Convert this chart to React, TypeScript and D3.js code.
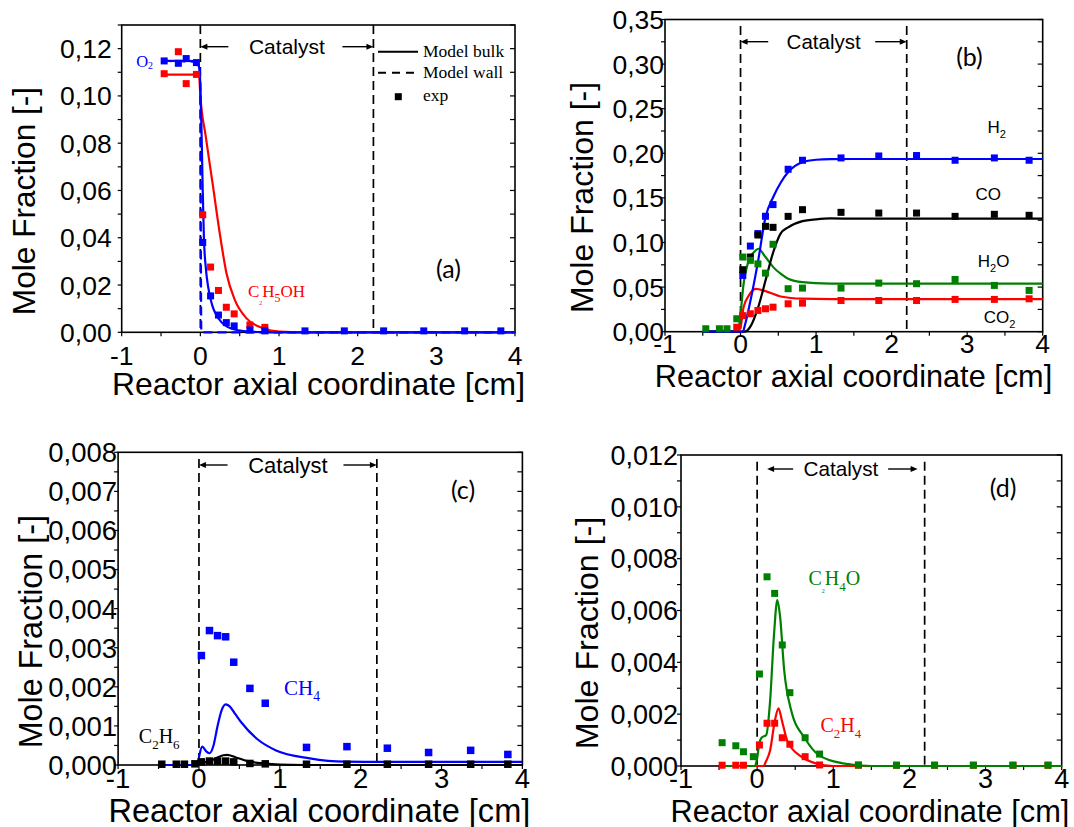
import React from 'react';
import * as d3 from 'd3';

// ---------- shared axial sampling positions of the experimental profiles [cm] ----------
const positions = [-0.46, -0.28, -0.18, -0.05, 0.03, 0.13, 0.23, 0.33, 0.43, 0.63, 0.82, 1.33, 1.83, 2.33, 2.84, 3.36, 3.82];

// ---------- (a) reactants ----------
const o2Exp = [0.1148, 0.1138, 0.1158, 0.1141, 0.038, 0.0154, 0.0073, 0.0041, 0.0027, 0.001, 0.0006, 0.0006, 0.0006, 0.0006, 0.0006, 0.0006, 0.0006];
const ethanolExp = [0.1094, 0.1187, 0.1052, 0.1091, 0.0497, 0.0276, 0.0177, 0.0106, 0.0078, 0.0031, 0.0021, null, null, null, null, null, null];
const o2Bulk: [number, number][] = [[-0.48, 0.1148], [-0.15, 0.1148], [-0.05, 0.1142], [-0.015, 0.112], [0, 0.104], [0.015, 0.085], [0.03, 0.06], [0.045, 0.04], [0.07, 0.027], [0.1, 0.019], [0.15, 0.0115], [0.2, 0.0075], [0.27, 0.0042], [0.35, 0.0022], [0.45, 0.0011], [0.6, 0.0004], [0.8, 0.0001], [1.0, 0], [4, 0]];
const o2Wall: [number, number][] = [[-0.48, 0.1148], [-0.05, 0.1145], [-0.01, 0.113], [0.0, 0.1], [0.005, 0.05], [0.012, 0], [4, 0]];
const ethanolBulk: [number, number][] = [[-0.46, 0.109], [-0.05, 0.109], [-0.015, 0.108], [0, 0.1], [0.068, 0.083], [0.161, 0.0617], [0.246, 0.042], [0.332, 0.025], [0.438, 0.0137], [0.587, 0.0059], [0.8, 0.0017], [1.01, 0.0003], [1.3, 0], [4, 0]];

// ---------- (b) main products ----------
const h2Exp = [null, null, null, null, 0.0631, 0.096, 0.11, 0.1294, 0.1425, 0.1821, 0.1922, 0.1948, 0.197, 0.1975, 0.1922, 0.1948, 0.1922];
const coExp = [null, null, null, null, 0.0695, 0.0837, 0.1084, 0.1181, 0.117, 0.1293, 0.1368, 0.1338, 0.133, 0.133, 0.1293, 0.1316, 0.1305];
const h2oExp = [0.0033, 0.0033, 0.0033, 0.0145, 0.0837, 0.08, 0.076, 0.0657, 0.098, 0.0482, 0.0489, 0.0489, 0.0545, 0.0538, 0.0586, 0.0519, 0.0463];
const co2Exp = [null, null, null, 0.005, 0.018, 0.0201, 0.0238, 0.0257, 0.0275, 0.0313, 0.032, 0.035, 0.035, 0.035, 0.0362, 0.0362, 0.0369];
const h2Bulk: [number, number][] = [[-0.5, 0], [0.03, 0], [0.06, 0.008], [0.132, 0.035], [0.234, 0.08], [0.331, 0.1286], [0.433, 0.151], [0.531, 0.167], [0.631, 0.179], [0.817, 0.19], [1.0, 0.1928], [1.19, 0.1935], [1.5, 0.1936], [4, 0.1936]];
const coBulk: [number, number][] = [[-0.5, 0], [0.05, 0], [0.132, 0.006], [0.234, 0.0275], [0.331, 0.0575], [0.433, 0.0893], [0.53, 0.11], [0.63, 0.117], [0.82, 0.124], [1.0, 0.126], [1.19, 0.127], [1.5, 0.1268], [4, 0.1268]];
const h2oBulk: [number, number][] = [[-0.5, 0], [-0.1, 0], [-0.03, 0.003], [0.0, 0.02], [0.035, 0.05], [0.11, 0.08], [0.2, 0.091], [0.234, 0.093], [0.33, 0.0837], [0.433, 0.0724], [0.53, 0.065], [0.63, 0.0594], [0.82, 0.0556], [1.19, 0.054], [1.5, 0.0538], [4, 0.0538]];
const co2Bulk: [number, number][] = [[-0.5, 0], [-0.05, 0], [0.0, 0.005], [0.04, 0.0275], [0.11, 0.0406], [0.2, 0.048], [0.33, 0.0455], [0.53, 0.0395], [0.82, 0.037], [1.2, 0.0366], [4, 0.0365]];

// ---------- (c) alkanes ----------
const ch4Exp = [null, null, null, null, 0.0028, 0.00344, 0.00331, 0.00328, 0.00263, 0.00196, 0.00158, 0.00045, 0.00047, 0.00043, 0.00032, 0.000375, 0.00027];
const c2h6Exp = [0.00002, 0.00002, 0.00002, 0.00003, 0.00008, 0.0001, 0.0001, 0.0001, 0.00008, 0.00004, 0.00003, 0.00002, 0.00002, 0.00002, 0.00002, 0.00002, 0.00002];
const ch4Bulk: [number, number][] = [[-0.5, 0], [-0.02, 0], [0.0, 0.0002], [0.04, 0.00047], [0.09, 0.00035], [0.13, 0.0003], [0.18, 0.0005], [0.23, 0.001], [0.28, 0.0014], [0.33, 0.00155], [0.38, 0.0015], [0.45, 0.0013], [0.52, 0.0011], [0.735, 0.00064], [0.947, 0.00038], [1.37, 0.00017], [1.8, 0.000085], [2.5, 0.00008], [4, 0.00008]];
const c2h6Bulk: [number, number][] = [[-0.5, 0], [0, 0], [0.03, 0.00006], [0.1, 0.00008], [0.2, 0.00016], [0.3, 0.00025], [0.35, 0.00026], [0.45, 0.0002], [0.6, 0.0001], [0.8, 0.00004], [1.0, 0.00001], [1.3, 0], [4, 0]];

// ---------- (d) oxygenates / olefins ----------
const c2h4oExp = [0.0009, 0.00078, 0.00055, 0.00036, 0.00355, 0.0073, 0.00666, 0.00467, 0.00283, 0.00109, 0.00046, 0.00004, 0.00003, 0.00003, 0.00003, 0.00003, 0.00003];
const c2h4Exp = [0.00003, 0.00003, 0.00003, null, 0.00081, 0.00165, 0.00165, 0.00109, 0.00084, 0.00036, 0.00004, 0.00003, 0.00003, 0.00003, 0.00003, 0.00003, 0.00003];
const c2h4oBulk: [number, number][] = [[-0.5, 0], [-0.03, 0], [0, 0.0003], [0.03, 0.0009], [0.06, 0.0011], [0.12, 0.0012], [0.17, 0.0025], [0.22, 0.005], [0.265, 0.0064], [0.3, 0.0058], [0.355, 0.0037], [0.446, 0.00216], [0.627, 0.00107], [0.81, 0.00042], [1.13, 0.0001], [1.5, 0], [4, 0]];
const c2h4Bulk: [number, number][] = [[-0.5, 0], [0.08, 0], [0.12, 0.0002], [0.17, 0.0006], [0.23, 0.0017], [0.28, 0.00222], [0.33, 0.0017], [0.4, 0.00094], [0.58, 0.00036], [0.77, 0.0001], [1.0, 0], [4, 0]];

// ---------- axis tick labels ----------
const xTicks = [-1, 0, 1, 2, 3, 4];
const yTicksA = [0, 0.02, 0.04, 0.06, 0.08, 0.1, 0.12];
const yTicksB = [0, 0.05, 0.1, 0.15, 0.2, 0.25, 0.3, 0.35];
const yTicksC = [0, 0.001, 0.002, 0.003, 0.004, 0.005, 0.006, 0.007, 0.008];
const yTicksD = [0, 0.002, 0.004, 0.006, 0.008, 0.01, 0.012];

const CATALYST_START = 0;
const CATALYST_END = 2.2;

const BLUE = '#0000ff';
const RED = '#ff0000';
const GREEN = '#008000';
const BLACK = '#000000';

const SANS = "'Liberation Sans', Arial, Helvetica, sans-serif";
const SERIF = "'Liberation Serif', 'Times New Roman', serif";
const TAG = "Lato, 'Open Sans', sans-serif";

type Pt = [number, number];
type Part = { t: string; scale?: number; shift?: number };

interface Species {
  parts: Part[];
  x: number;
  y: number;
  color: string;
  size: number;
  family: string;
}

interface PanelSpec {
  tag: string;
  box: { l: number; r: number; t: number; b: number };
  yMax: number;
  yTicks: number[];
  yMinor: number;
  decimals: number;
  tickFont: number;
  yLabelGap: number;
  xLabelDrop: number;
  xTitle: { x: number; y: number; size: number };
  yTitle: { x: number; y: number; size: number };
  tagPos: { x: number; y: number };
  cat: { arrowDrop: number; dashTop: number; leftInset: number; leftLen: number; rightInset: number; rightLen: number; font: number };
  curves: { points: Pt[]; color: string; dashed?: boolean }[];
  exp: { values: (number | null)[]; color: string }[];
  species: Species[];
  marker: number;
  legend?: boolean;
}

const fmt = (d: number, n: number) => d.toFixed(n).replace('.', ',');

function Formula({ s }: { s: Species }) {
  let prev = 0;
  return (
    <text fill={s.color} fontFamily={s.family} fontSize={s.size}>
      {s.parts.map((p, i) => {
        const shift = p.shift ?? 0;
        const dy = shift - prev;
        prev = shift;
        return (
          <tspan key={i} x={i === 0 ? s.x : undefined} y={i === 0 ? s.y : undefined} dy={i === 0 ? undefined : dy} fontSize={s.size * (p.scale ?? 1)}>
            {p.t}
          </tspan>
        );
      })}
    </text>
  );
}

function Panel({ p }: { p: PanelSpec }) {
  const { l, r, t, b } = p.box;
  const x = d3.scaleLinear().domain([-1, 4]).range([l, r]);
  const y = d3.scaleLinear().domain([0, p.yMax]).range([b, t]);
  const line = d3
    .line<Pt>()
    .x((d) => x(d[0]))
    .y((d) => y(d[1]))
    .curve(d3.curveMonotoneX);

  const minorY = d3.range(0, p.yMax + p.yMinor / 2, p.yMinor);
  const minorX = d3.range(-1, 4.001, 0.5);
  const arrowY = t + p.cat.arrowDrop;
  const x0 = x(CATALYST_START);
  const x1 = x(CATALYST_END);
  const xMid = x((CATALYST_START + CATALYST_END) / 2);
  const m = p.marker;

  // species labels are anchored in data units
  const species = p.species.map((s) => ({ ...s, x: x(s.x), y: y(s.y) }));

  return (
    <g>
      {/* catalyst zone boundaries */}
      {[x0, x1].map((xx, i) => (
        <line key={i} x1={xx} x2={xx} y1={t + p.cat.dashTop} y2={b} stroke={BLACK} strokeWidth={1.7} strokeDasharray="9,5" />
      ))}
      {/* catalyst annotation */}
      <g stroke={BLACK} strokeWidth={1.4} fill={BLACK}>
        <line x1={x0 + p.cat.leftInset + 5} x2={x0 + p.cat.leftInset + p.cat.leftLen} y1={arrowY} y2={arrowY} />
        <path d={`M${x0 + p.cat.leftInset},${arrowY} l7,-3 l0,6 z`} stroke="none" />
        <line x1={x1 - p.cat.rightInset - p.cat.rightLen} x2={x1 - p.cat.rightInset - 5} y1={arrowY} y2={arrowY} />
        <path d={`M${x1 - p.cat.rightInset},${arrowY} l-7,-3 l0,6 z`} stroke="none" />
      </g>
      <text x={xMid} y={arrowY} dy="0.35em" textAnchor="middle" fontFamily={SANS} fontSize={p.cat.font} fill={BLACK}>
        Catalyst
      </text>

      {/* frame */}
      <rect x={l} y={t} width={r - l} height={b - t} fill="none" stroke={BLACK} strokeWidth={1.6} />
      {/* y ticks: outward on the left, inward on the right */}
      {minorY.map((v, i) => (
        <g key={i} stroke={BLACK} strokeWidth={1.2}>
          <line x1={l - 4} x2={l} y1={y(v)} y2={y(v)} />
          <line x1={r - 5} x2={r} y1={y(v)} y2={y(v)} />
        </g>
      ))}
      {minorX.map((v, i) => (
        <line key={i} x1={x(v)} x2={x(v)} y1={b} y2={b + 4} stroke={BLACK} strokeWidth={1.2} />
      ))}
      {p.yTicks.map((v) => (
        <text key={v} x={l - p.yLabelGap} y={y(v)} dy="0.36em" textAnchor="end" fontFamily={SANS} fontSize={p.tickFont} fill={BLACK}>
          {fmt(v, p.decimals)}
        </text>
      ))}
      {xTicks.map((v) => (
        <text key={v} x={x(v)} y={b + p.xLabelDrop} textAnchor="middle" fontFamily={SANS} fontSize={p.tickFont} fill={BLACK}>
          {v < 0 ? `-${Math.abs(v)}` : v}
        </text>
      ))}
      <text x={p.xTitle.x} y={p.xTitle.y} textAnchor="middle" fontFamily={SANS} fontSize={p.xTitle.size} fill={BLACK}>
        Reactor axial coordinate [cm]
      </text>
      <text transform={`translate(${p.yTitle.x},${p.yTitle.y}) rotate(-90)`} textAnchor="middle" fontFamily={SANS} fontSize={p.yTitle.size} fill={BLACK}>
        Mole Fraction [-]
      </text>

      {/* model profiles */}
      {p.curves.map((c, i) => (
        <path key={i} d={line(c.points) ?? ''} fill="none" stroke={c.color} strokeWidth={2.2} strokeDasharray={c.dashed ? '9,5' : undefined} />
      ))}
      {/* experimental points */}
      {p.exp.map((s, si) => (
        <g key={si} fill={s.color}>
          {positions.map((pos, i) => {
            const v = s.values[i];
            if (v === null || v === undefined) return null;
            return <rect key={i} x={x(pos) - m / 2} y={y(v) - m / 2} width={m} height={m} />;
          })}
        </g>
      ))}

      {species.map((s, i) => (
        <Formula key={i} s={s} />
      ))}

      <text x={p.tagPos.x} y={p.tagPos.y} dy="0.35em" textAnchor="middle" fontFamily={TAG} fontSize={25} fill={BLACK}>
        {p.tag}
      </text>

      {p.legend && (
        <g fontFamily={SERIF} fontSize={17.5} fill={BLACK}>
          <line x1={378} x2={418} y1={51.7} y2={51.7} stroke={BLACK} strokeWidth={2} />
          <text x={423} y={51.7} dy="0.33em">Model bulk</text>
          <line x1={378} x2={418} y1={72.7} y2={72.7} stroke={BLACK} strokeWidth={2} strokeDasharray="8,6" />
          <text x={423} y={72.7} dy="0.33em">Model wall</text>
          <rect x={398.3 - 3.5} y={96.7 - 3.5} width={7} height={7} fill={BLACK} />
          <text x={423} y={96.7} dy="0.25em">exp</text>
        </g>
      )}
    </g>
  );
}

const panels: PanelSpec[] = [
  {
    tag: '(a)',
    box: { l: 121.7, r: 515, t: 25, b: 332.3 },
    yMax: 0.13,
    yTicks: yTicksA,
    yMinor: 0.01,
    decimals: 2,
    tickFont: 26.5,
    yLabelGap: 10,
    xLabelDrop: 32.5,
    xTitle: { x: 318.5, y: 395, size: 31.9 },
    yTitle: { x: 35, y: 201, size: 31.6 },
    tagPos: { x: 448.5, y: 269 },
    cat: { arrowDrop: 21.7, dashTop: 0, leftInset: 0, leftLen: 28, rightInset: 0, rightLen: 31, font: 21 },
    curves: [
      { points: ethanolBulk, color: RED },
      { points: o2Wall, color: BLUE, dashed: true },
      { points: o2Bulk, color: BLUE },
    ],
    exp: [
      { values: ethanolExp, color: RED },
      { values: o2Exp, color: BLUE },
    ],
    species: [
      { parts: [{ t: 'O' }, { t: '2', scale: 0.6, shift: 2 }], x: -0.816, y: 0.1124, color: BLUE, size: 16.5, family: SERIF },
      { parts: [{ t: 'C' }, { t: '2', scale: 0.35, shift: 8 }, { t: 'H', shift: 0 }, { t: '5', scale: 0.7, shift: 5 }, { t: 'OH', shift: 0 }], x: 0.605, y: 0.01488, color: RED, size: 17, family: SERIF },
    ],
    marker: 7,
    legend: true,
  },
  {
    tag: '(b)',
    box: { l: 665, r: 1042.7, t: 19.5, b: 331.7 },
    yMax: 0.35,
    yTicks: yTicksB,
    yMinor: 0.025,
    decimals: 2,
    tickFont: 26.5,
    yLabelGap: 1,
    xLabelDrop: 21.6,
    xTitle: { x: 853.5, y: 387.3, size: 30.7 },
    yTitle: { x: 593, y: 197.5, size: 32 },
    tagPos: { x: 969.5, y: 57.5 },
    cat: { arrowDrop: 22.2, dashTop: 6.5, leftInset: 0, leftLen: 27.7, rightInset: 0, rightLen: 31.5, font: 20.5 },
    curves: [
      { points: co2Bulk, color: RED },
      { points: h2oBulk, color: GREEN },
      { points: coBulk, color: BLACK },
      { points: h2Bulk, color: BLUE },
    ],
    exp: [
      { values: co2Exp, color: RED },
      { values: h2Exp, color: BLUE },
      { values: coExp, color: BLACK },
      { values: h2oExp, color: GREEN },
    ],
    species: [
      { parts: [{ t: 'H' }, { t: '2', scale: 0.65, shift: 5 }], x: 3.27, y: 0.2233, color: BLACK, size: 17, family: SANS },
      { parts: [{ t: 'CO' }], x: 3.11, y: 0.1473, color: BLACK, size: 17, family: SANS },
      { parts: [{ t: 'H' }, { t: '2', scale: 0.65, shift: 5 }, { t: 'O', shift: 0 }], x: 3.14, y: 0.0724, color: BLACK, size: 17, family: SANS },
      { parts: [{ t: 'CO' }, { t: '2', scale: 0.65, shift: 5 }], x: 3.22, y: 0.0095, color: BLACK, size: 17, family: SANS },
    ],
    marker: 7,
  },
  {
    tag: '(c)',
    box: { l: 118.1, r: 522.4, t: 452.3, b: 765 },
    yMax: 0.008,
    yTicks: yTicksC,
    yMinor: 0.0005,
    decimals: 3,
    tickFont: 27.5,
    yLabelGap: 1,
    xLabelDrop: 23.3,
    xTitle: { x: 319.4, y: 821.7, size: 32.6 },
    yTitle: { x: 42, y: 631.7, size: 32.3 },
    tagPos: { x: 463, y: 490 },
    cat: { arrowDrop: 12.7, dashTop: 6.7, leftInset: 0, leftLen: 28.6, rightInset: 0, rightLen: 33.4, font: 22 },
    curves: [
      { points: c2h6Bulk, color: BLACK },
      { points: ch4Bulk, color: BLUE },
    ],
    exp: [
      { values: c2h6Exp, color: BLACK },
      { values: ch4Exp, color: BLUE },
    ],
    species: [
      { parts: [{ t: 'CH' }, { t: '4', scale: 0.65, shift: 6 }], x: 1.053, y: 0.00179, color: BLUE, size: 21, family: SERIF },
      { parts: [{ t: 'C' }, { t: '2', scale: 0.65, shift: 6 }, { t: 'H', shift: 0 }, { t: '6', scale: 0.65, shift: 6 }], x: -0.744, y: 0.000555, color: BLACK, size: 20, family: SERIF },
    ],
    marker: 7.5,
  },
  {
    tag: '(d)',
    box: { l: 681, r: 1061.7, t: 455, b: 766 },
    yMax: 0.012,
    yTicks: yTicksD,
    yMinor: 0.001,
    decimals: 3,
    tickFont: 27,
    yLabelGap: 3,
    xLabelDrop: 22.3,
    xTitle: { x: 870, y: 821.7, size: 30.8 },
    yTitle: { x: 598, y: 633, size: 32.2 },
    tagPos: { x: 1003, y: 488 },
    cat: { arrowDrop: 14, dashTop: 6.7, leftInset: 10, leftLen: 26, rightInset: 7, rightLen: 29.5, font: 20.7 },
    curves: [
      { points: c2h4Bulk, color: RED },
      { points: c2h4oBulk, color: GREEN },
    ],
    exp: [
      { values: c2h4Exp, color: RED },
      { values: c2h4oExp, color: GREEN },
    ],
    species: [
      { parts: [{ t: 'C' }, { t: '2', scale: 0.3, shift: 8 }, { t: 'H', shift: 0 }, { t: '4', scale: 0.65, shift: 6 }, { t: 'O', shift: 0 }], x: 0.674, y: 0.00698, color: GREEN, size: 20, family: SERIF },
      { parts: [{ t: 'C' }, { t: '2', scale: 0.65, shift: 6 }, { t: 'H', shift: 0 }, { t: '4', scale: 0.65, shift: 6 }], x: 0.832, y: 0.001323, color: RED, size: 20, family: SERIF },
    ],
    marker: 7,
  },
];

export default function App() {
  return (
    <svg width={1074} height={827} viewBox="0 0 1074 827" style={{ position: 'absolute', left: 0, top: 0, background: '#ffffff' }}>
      <rect width={1074} height={827} fill="#ffffff" />
      {panels.map((p) => (
        <Panel key={p.tag} p={p} />
      ))}
    </svg>
  );
}
